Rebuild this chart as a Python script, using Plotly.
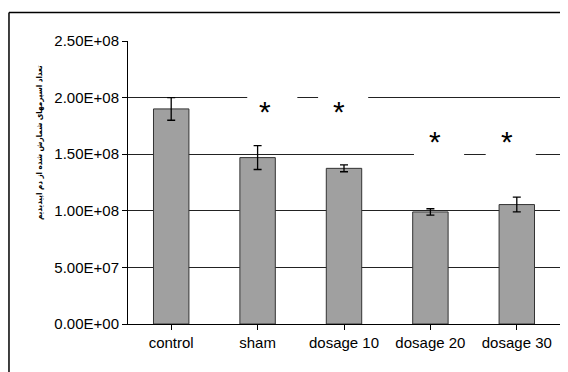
import plotly.graph_objects as go

categories = ["control", "sham", "dosage 10", "dosage 20", "dosage 30"]
values = [1.90e8, 1.47e8, 1.375e8, 0.99e8, 1.055e8]
errors = [1.0e7, 1.05e7, 3.0e6, 2.8e6, 6.5e6]
y_ticks = [0, 5e7, 1e8, 1.5e8, 2e8, 2.5e8]
y_tick_labels = ["0.00E+00", "5.00E+07", "1.00E+08", "1.50E+08", "2.00E+08", "2.50E+08"]
y_title = "تعداد اسپرمهای شمارش شده از دم اپیدیدیم"

# significance markers: (category index + offset, y value)
star_x = [1.09, 1.94, 3.05, 3.89]
star_y = [1.93e8, 1.93e8, 1.665e8, 1.665e8]
# white masks that break gridlines around the stars
mask_x = [1.17, 1.99, 3.10, 3.93]
mask_y = [2.0e8, 2.0e8, 1.5e8, 1.5e8]

FONT = "Arial, Liberation Sans, DejaVu Sans, sans-serif"

fig = go.Figure()
fig.add_trace(go.Bar(
    x=list(range(len(categories))), y=values,
    marker=dict(color="#a0a0a0", line=dict(color="#333333", width=1)),
    width=0.41,
    error_y=dict(type="data", array=errors, visible=True, color="black", thickness=1.3, width=4),
))

shapes = []
for mx, my in zip(mask_x, mask_y):
    shapes.append(dict(type="rect", xref="x", yref="y", x0=mx - 0.29, x1=mx + 0.29,
                       y0=my - 4e6, y1=my + 4e6, fillcolor="white", line=dict(width=0), layer="above"))
# outer frame (left and top edges)
shapes.append(dict(type="line", xref="paper", yref="paper", x0=-0.2755, x1=-0.2755, y0=1.1007, y1=-0.3,
                   line=dict(color="black", width=1.5)))
shapes.append(dict(type="line", xref="paper", yref="paper", x0=-0.2755, x1=1.1, y0=1.1007, y1=1.1007,
                   line=dict(color="black", width=1.5)))

annotations = []
for sx, sy in zip(star_x, star_y):
    annotations.append(dict(x=sx, y=sy, xref="x", yref="y", text="*", showarrow=False,
                            font=dict(family=FONT, size=30, color="black"), yshift=-6))
annotations.append(dict(x=-0.22, y=0.643, xref="paper", yref="paper", text="<b>" + y_title + "</b>",
                        textangle=-90, showarrow=False,
                        font=dict(family="DejaVu Sans Condensed, DejaVu Sans, sans-serif", size=8,
                                  color="black")))

fig.update_layout(
    width=560, height=364,
    margin=dict(l=120, r=8, t=33, b=48),
    paper_bgcolor="white", plot_bgcolor="white",
    showlegend=False,
    font=dict(family=FONT, size=15, color="black"),
    shapes=shapes, annotations=annotations,
    xaxis=dict(
        tickmode="array", tickvals=list(range(len(categories))), ticktext=categories,
        range=[-0.5, 4.5], showline=True, linecolor="black", linewidth=1,
        ticks="outside", ticklen=5, tickcolor="black", showgrid=False,
        tickfont=dict(size=15), zeroline=False,
    ),
    yaxis=dict(
        range=[0, 2.5e8], tickmode="array", tickvals=y_ticks, ticktext=y_tick_labels,
        showline=True, linecolor="black", linewidth=1,
        ticks="outside", ticklen=5, tickcolor="black",
        showgrid=True, gridcolor="#222222", gridwidth=1, zeroline=False,
        tickfont=dict(size=15),
    ),
)

# x-axis ticks at category boundaries
fig.update_xaxes(tickson="boundaries")

fig.write_html("out.html")
